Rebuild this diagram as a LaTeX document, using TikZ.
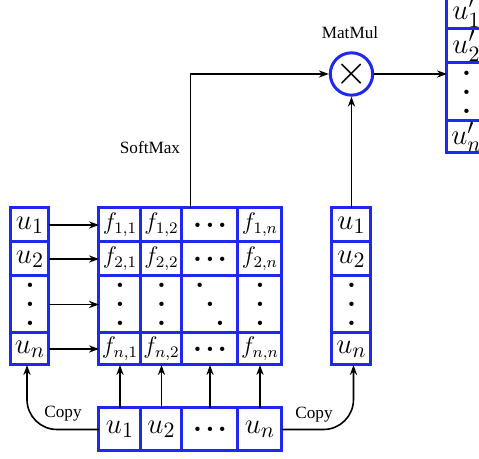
\documentclass[tikz,border=0pt]{standalone}
\usepackage{fontspec}
\usepackage{amsmath}
\usetikzlibrary{arrows.meta, fit, positioning}
\newfontfamily\lblfont{Liberation Serif}
\definecolor{cellblue}{RGB}{30, 40, 240}
\tikzset{>={Stealth[length=5pt, width=3.6pt]}}
\tikzset{
  cell/.style = {draw=cellblue, line width=1.5pt, inner sep=0pt, outer sep=0pt, anchor=north west},
  ucell/.style = {cell, font=\fontsize{15}{18}\selectfont},
  fcell/.style = {cell, font=\large},
  lbl/.style = {font=\lblfont\fontsize{8.6}{10}\selectfont},
  conn/.style = {->, line width=0.8pt}
}
\newcommand{\colvdots}{\vbox{\bfseries\baselineskip=9.5pt\lineskiplimit=-\maxdimen\hbox{.}\hbox{.}\hbox{.}}}
\newcommand{\diagdots}{\hbox{\bfseries\raise19pt\hbox{.}\kern0.4pt\raise9.5pt\hbox{.}\kern0.4pt.}}
\newcommand{\rowdots}{\hbox{\bfseries.\kern1.5pt.\kern1.5pt.}}

\begin{document}
\begin{tikzpicture}[x=0.5pt, y=-0.5pt]
\useasboundingbox (0,0) rectangle (479,459);
\clip (0,0) rectangle (479,459);

% left copy of the input
\foreach \n/\y/\h/\txt in {1/208/17pt/{$u_1$}, 2/242/17pt/{$u_2$}, 3/276/28.5pt/{\colvdots}, 4/333/16pt/{$u_n$}}
  \node[ucell, minimum width=19pt, minimum height=\h] (a\n) at (11,\y) {\txt};

% score matrix
\foreach \i/\y/\h/\r in {1/208/17pt/1, 2/242/17pt/2, 4/333/16pt/n}
  \foreach \j/\x/\w/\c in {1/99/21pt/1, 2/141/20.5pt/2, 4/238/22pt/n}
    \node[fcell, minimum width=\w, minimum height=\h] (f\i\j) at (\x,\y) {$f_{\r,\c}$};
\foreach \i/\y/\h in {1/208/17pt, 2/242/17pt, 4/333/16pt}
  \node[ucell, minimum width=28pt, minimum height=\h] (f\i3) at (182,\y) {\rowdots};
\foreach \j/\x/\w in {1/99/21pt, 2/141/20.5pt, 4/238/22pt}
  \node[ucell, minimum width=\w, minimum height=28.5pt] (f3\j) at (\x,276) {\colvdots};
\node[ucell, minimum width=28pt, minimum height=28.5pt] (f33) at (182,276) {\diagdots};
\node[fit=(f11)(f44), inner sep=0pt] (F) {};

% input row
\foreach \j/\x/\w/\txt in {1/99/21pt/{$u_1$}, 2/141/20.5pt/{$u_2$}, 3/182/28pt/{\rowdots}, 4/238/22pt/{$u_n$}}
  \node[ucell, minimum width=\w, minimum height=21.5pt] (b\j) at (\x,408) {\txt};

% right copy of the input
\foreach \n/\y/\h/\txt in {1/208/17pt/{$u_1$}, 2/242/17pt/{$u_2$}, 3/276/28.5pt/{\colvdots}, 4/333/16pt/{$u_n$}}
  \node[ucell, minimum width=19.5pt, minimum height=\h] (v\n) at (332,\y) {\txt};

% output
\foreach \n/\y/\h/\txt in {1/-5/17pt/{$u'_1$}, 2/29/17pt/{$u'_2$}, 3/63/29pt/{\colvdots}, 4/121/16pt/{$u'_n$}}
  \node[ucell, minimum width=19.5pt, minimum height=\h] (p\n) at (447,\y) {\txt};

\node[circle, draw=cellblue, line width=1.5pt, minimum size=20pt, inner sep=0pt,
  font=\fontsize{20}{24}\selectfont] (mul) at (351.5,74) {$\times$};

% connectors
\foreach \i in {1,...,4} \draw[conn] (a\i) -- (f\i1);
\foreach \j in {1,...,4} \draw[conn] (b\j) -- (f4\j);
\draw[conn] (F.north) |- (mul);
\draw[conn] (v1) -- (mul);
\draw[conn] (mul) -- (mul -| p3.west);
\draw[conn, rounded corners=15pt] (b1.west) -| ([xshift=-1.5pt]a4.south);
\draw[conn, rounded corners=15pt] (b4.east) -| ([xshift=1pt]v4.south);

\node[lbl] (softmax) at (150,148) {SoftMax};
\node[lbl] (matmul) at (350,33) {MatMul};
\node[lbl] (copyl) at (63,414) {Copy};
\node[lbl] (copyr) at (314,415) {Copy};
\end{tikzpicture}
\end{document}
